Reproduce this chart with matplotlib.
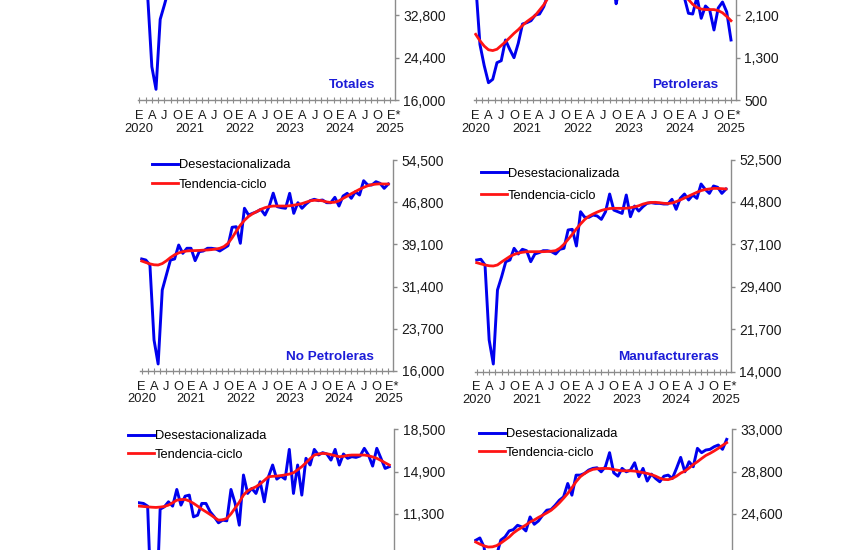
import numpy as np
import matplotlib.pyplot as plt
from matplotlib.transforms import blended_transform_factory, offset_copy

plt.rcParams['font.family'] = ['Liberation Sans', 'DejaVu Sans']

W, H = 850, 550
months = np.arange(61)  # ene 2020 ... ene 2025
letters = ['E', 'A', 'J', 'O']
years = ['2020', '2021', '2022', '2023', '2024', '2025']

# millones de dolares, serie desestacionalizada / tendencia-ciclo
totales_des = [39240, 38500, 36700, 22610, 18120, 32020, 34870, 37900, 37900, 40300, 39050, 40330,
               40350, 38130, 39880, 40030, 40650, 41000, 41000, 40600, 41000, 41600, 45000, 45000,
               42000, 49000, 48000, 48500, 48900, 49300, 48000, 49400, 51700, 49000, 48700, 48500,
               51200, 47400, 49400, 48300, 49100, 49700, 49900, 49700, 49800, 49400, 49300, 50200,
               48700, 50100, 50550, 50000, 50800, 50400, 52900, 51800, 52200, 52900, 52400, 51500,
               51800]
totales_tc = [37810, 37450, 37100, 36850, 36780, 37050, 37650, 38300, 38880, 39310, 39600, 39810,
              39930, 40010, 40100, 40250, 40380, 40570, 40800, 41100, 41550, 42200, 43300, 44600,
              45800, 46800, 47600, 48150, 48600, 48950, 49200, 49350, 49400, 49350, 49300, 49250,
              49250, 49300, 49400, 49500, 49700, 49900, 49950, 49900, 49750, 49500, 49350, 49350,
              49550, 49950, 50300, 50650, 50990, 51360, 51710, 52010, 52210, 52300, 52300, 52200,
              52120]

petro_des = [2700, 1550, 1150, 827, 891, 1206, 1243, 1635, 1458, 1300, 1572, 1937,
             1962, 2000, 2107, 2126, 2265, 2500, 2650, 2700, 2900, 3100, 3000, 3050,
             3300, 3600, 3800, 3900, 3950, 3800, 3500, 3450, 2900, 2320, 2700, 2650,
             2600, 2550, 2700, 2600, 2750, 2700, 2800, 2900, 2850, 2750, 2700, 2600,
             2500, 2450, 2140, 2126, 2450, 2045, 2278, 2200, 1824, 2240, 2353, 2165,
             1635]
petro_tc = [1742, 1620, 1520, 1450, 1435, 1460, 1530, 1600, 1680, 1760, 1830, 1910,
            1981, 2040, 2100, 2200, 2300, 2430, 2560, 2700, 2840, 2990, 3140, 3290,
            3430, 3550, 3640, 3690, 3690, 3640, 3540, 3400, 3240, 3080, 2950, 2850,
            2780, 2740, 2720, 2710, 2710, 2720, 2730, 2730, 2720, 2690, 2650, 2600,
            2540, 2470, 2400, 2310, 2250, 2220, 2210, 2210, 2210, 2190, 2150, 2080,
            2000]

nopet_des = [36440, 36250, 35340, 21660, 17280, 30780, 33520, 36250, 36440, 38990, 37470, 38390,
             38390, 36130, 37770, 37900, 38390, 38390, 38270, 37900, 38390, 38860, 42220, 42330,
             39300, 45690, 44460, 44770, 45070, 45500, 44460, 46000, 48450, 45980, 45800, 45690,
             48420, 44770, 46710, 45690, 46470, 47080, 47330, 47080, 47200, 46710, 46710, 47690,
             46100, 47930, 48420, 47510, 48720, 48110, 50720, 49940, 49940, 50540, 50240, 49330,
             50120]
nopet_tc = [36070, 35800, 35550, 35380, 35340, 35600, 36100, 36700, 37200, 37550, 37770, 37900,
            37950, 37970, 38000, 38050, 38080, 38150, 38250, 38390, 38700, 39300, 40300, 41500,
            42600, 43500, 44200, 44700, 45100, 45500, 45800, 46000, 46100, 46100, 46100, 46100,
            46150, 46250, 46400, 46550, 46800, 47050, 47150, 47150, 47050, 46850, 46750, 46800,
            47050, 47500, 47900, 48350, 48750, 49150, 49500, 49800, 50000, 50100, 50150, 50120,
            50120]

manuf_des = [34250, 34380, 33340, 19720, 15360, 28800, 31220, 33940, 34250, 36370, 35340, 36190,
             35940, 33940, 35340, 35580, 35940, 35940, 35760, 35340, 36190, 36370, 39700, 39820,
             36790, 43020, 42000, 42000, 42420, 42240, 41630, 43000, 46230, 43320, 43010, 42710,
             46050, 42110, 44050, 43140, 43930, 44540, 44660, 44540, 44540, 44420, 44420, 45270,
             43450, 45450, 46230, 45150, 46050, 45450, 48050, 47080, 46350, 47690, 47450, 46350,
             47140]
manuf_tc = [33760, 33550, 33350, 33200, 33160, 33350, 33900, 34400, 34900, 35250, 35500, 35650,
            35750, 35760, 35760, 35760, 35760, 35800, 35850, 35950, 36400, 37100, 38000, 38900,
            39900, 40800, 41600, 42200, 42600, 42950, 43250, 43450, 43600, 43630, 43630, 43630,
            43650, 43750, 43900, 44100, 44400, 44600, 44700, 44720, 44650, 44550, 44500, 44600,
            44850, 45150, 45500, 45850, 46200, 46550, 46850, 47050, 47150, 47250, 47250, 47200,
            47150]

auto_des = [12245, 12190, 11960, 2500, 2000, 11700, 11900, 12330, 11960, 13380, 12050, 12810,
            12900, 11050, 11190, 12190, 12190, 11480, 11050, 10540, 10770, 10710, 13380, 12190,
            10340, 14610, 13040, 13470, 13040, 14040, 12330, 14460, 15460, 14260, 14520, 14260,
            16790, 13040, 15460, 12900, 16030, 15460, 16790, 16310, 16510, 16400, 15880, 16790,
            15460, 16400, 16030, 16170, 16110, 16230, 16880, 16310, 15370, 16880, 16030, 15170,
            15320]
auto_tc = [11960, 11930, 11900, 11870, 11850, 11880, 11930, 12050, 12250, 12470, 12520, 12530,
           12400, 12200, 11960, 11700, 11480, 11250, 11000, 10770, 10800, 10910, 11300, 11800,
           12300, 12900, 13270, 13450, 13610, 13850, 14150, 14460, 14500, 14520, 14560, 14620,
           14690, 14800, 15050, 15320, 15650, 16000, 16310, 16400, 16450, 16420, 16350, 16250,
           16170, 16200, 16280, 16310, 16310, 16310, 16310, 16250, 16150, 16030, 15850, 15650,
           15460]

noauto_des = [21980, 22210, 21310, 18000, 14000, 20500, 22000, 22310, 22910, 23040, 23470, 23310,
              22910, 24300, 23570, 23900, 24470, 24970, 25030, 25460, 25960, 26290, 27620, 26460,
              28450, 28450, 28620, 28950, 29120, 29180, 28780, 29280, 30680, 28680, 28350, 29120,
              28780, 28950, 29680, 28290, 29120, 27860, 28550, 28120, 27790, 28350, 28450, 28120,
              29120, 30210, 28780, 29780, 29280, 31110, 30680, 30940, 31010, 31270, 31440, 31010,
              32000]
noauto_tc = [21810, 21600, 21420, 21310, 21330, 21450, 21700, 22000, 22300, 22700, 23000, 23250,
             23500, 23800, 24000, 24250, 24470, 24700, 24950, 25300, 25700, 26150, 26630, 27200,
             27800, 28290, 28600, 28850, 29020, 29080, 29110, 29120, 29100, 29000, 28930, 28880,
             28880, 28880, 28850, 28780, 28700, 28620, 28500, 28350, 28150, 28020, 28000, 28120,
             28350, 28650, 28850, 29150, 29500, 29780, 30100, 30400, 30610, 30850, 31110, 31400,
             31670]

fig = plt.figure(figsize=(8.5, 5.5), dpi=100)
px = 72 / 100  # points per pixel
narrow = ['Liberation Sans Narrow', 'DejaVu Sans Condensed', 'Liberation Sans', 'DejaVu Sans']


def panel(p0, p60, top, bottom, des, tc, ylo, yhi, title=None, legend=None):
    # p0/p60: pixel x of ene-2020 and ene-2025, top/bottom: pixel y of the y-range
    s = (p60 - p0) / 60
    x_lo, x_hi = -0.3, 61.2
    left = p0 + x_lo * s
    right = p0 + x_hi * s
    ax = fig.add_axes([left / W, 1 - bottom / H, (right - left) / W, (bottom - top) / H])
    ax.plot(months, des, color='#0000ee', lw=2.1, label='Desestacionalizada')
    ax.plot(months, tc, color='#ff1414', lw=2.0, label='Tendencia-ciclo')
    ax.set_xlim(x_lo, x_hi)
    ax.set_ylim(ylo, yhi)

    for side in ['left', 'top']:
        ax.spines[side].set_visible(False)
    for side in ['bottom', 'right']:
        ax.spines[side].set_color('#8c8c8c')
        ax.spines[side].set_linewidth(1.0)

    # eje y a la derecha; solo se rotulan las marcas que caen dentro de la imagen
    yt = np.linspace(ylo, yhi, 6)
    ylabs = []
    for v in yt:
        py = bottom - (v - ylo) / (yhi - ylo) * (bottom - top)
        ylabs.append(f'{v:,.0f}' if 4 < py < H - 4 else '')
    ax.yaxis.tick_right()
    ax.set_yticks(yt)
    ax.set_yticklabels(ylabs)
    ax.tick_params(axis='y', direction='out', length=3, width=1, color='#8c8c8c',
                   pad=3, labelsize=10, labelcolor='#1a1a1a')

    # eje x: marcas cada mes y medio, letras trimestrales y el anio bajo cada enero
    ax.set_xticks(np.arange(0, 61, 1.5))
    ax.set_xticklabels([])
    ax.tick_params(axis='x', direction='inout', length=4, width=0.8, color='#8c8c8c')
    if bottom < H:
        trans = blended_transform_factory(ax.transData, ax.transAxes)
        row1 = offset_copy(trans, fig=fig, y=-15.5 * px, units='points')
        row2 = offset_copy(trans, fig=fig, y=-28.5 * px, units='points')
        for m in range(0, 61, 3):
            if m == 60:
                ax.text(m, 0, 'E*', transform=offset_copy(row1, fig=fig, x=-3.5 * px, units='points'),
                        ha='left', va='center', fontsize=9.3, color='#1a1a1a', family=narrow)
            else:
                ax.text(m, 0, letters[(m // 3) % 4], transform=row1, ha='center', va='center',
                        fontsize=9.3, color='#1a1a1a', family=narrow)
            if m % 12 == 0:
                ax.text(m, 0, years[m // 12], transform=row2, ha='center', va='center',
                        fontsize=9.3, color='#1a1a1a')

    if title:
        tx, ty = title[1], title[2]
        fig.text(tx / W, 1 - ty / H, title[0], ha='right', va='center', fontsize=9.7,
                 fontweight='bold', color='#1c1cd8')
    if legend:
        lx, ly, sp = legend
        ax.legend(loc='upper left', bbox_to_anchor=(lx / W, 1 - ly / H),
                  bbox_transform=fig.transFigure, frameon=False, fontsize=9.3,
                  handlelength=2.0, handletextpad=0.1, borderpad=0, borderaxespad=0,
                  labelspacing=sp)
    return ax


# fila superior (cortada arriba)
panel(139.3, 390.0, -111.5, 100, totales_des, totales_tc, 16000, 58000,
      title=('Totales', 375, 85))
panel(475.7, 731.0, -111.5, 100, petro_des, petro_tc, 500, 4500,
      title=('Petroleras', 718, 85))
# fila media
panel(141.7, 388.3, 160, 371, nopet_des, nopet_tc, 16000, 54500,
      title=('No Petroleras', 374, 357), legend=(152, 159, 0.58))
panel(476.7, 726.0, 159.5, 371.5, manuf_des, manuf_tc, 14000, 52500,
      title=('Manufactureras', 719, 357), legend=(481, 167.5, 0.78))
# fila inferior (cortada abajo)
panel(139.3, 389.3, 429.3, 640.8, auto_des, auto_tc, 500, 18500,
      legend=(128, 430, 0.52))
panel(475.7, 726.7, 429.3, 640.8, noauto_des, noauto_tc, 12000, 33000,
      legend=(479, 428, 0.52))

fig.savefig('out.png', dpi=100)
